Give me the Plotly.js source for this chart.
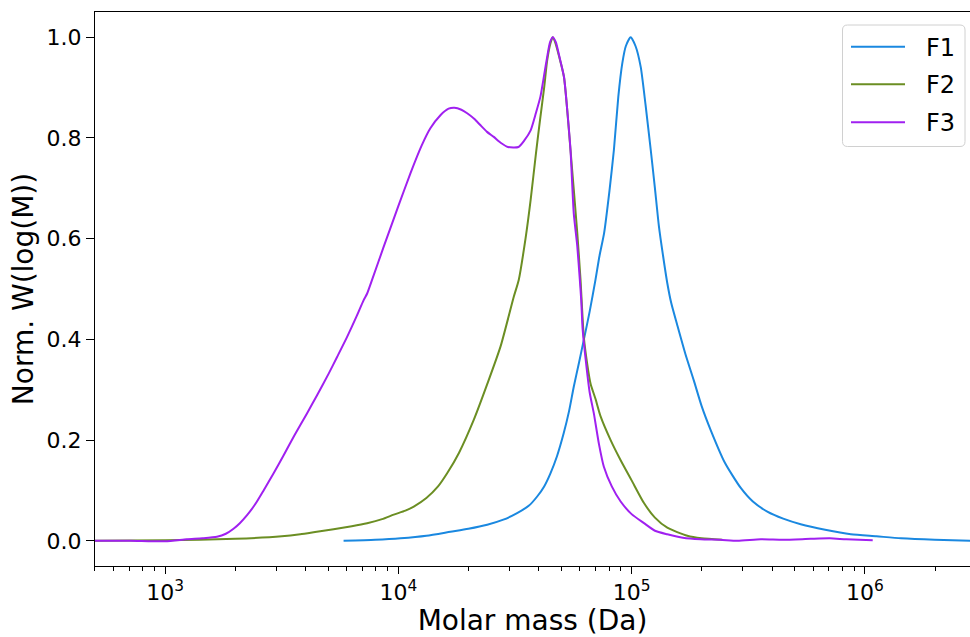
<!DOCTYPE html>
<html>
<head>
<meta charset="utf-8">
<script src="https://cdn.plot.ly/plotly-3.0.1.min.js"></script>
<style>html,body{margin:0;padding:0;background:#fff;}#chart{width:970px;height:637px;}</style>
</head>
<body>
<div id="chart"></div>
<script>
// Series names
const seriesNames = ["F1", "F2", "F3"];

// F1 (blue): molar mass (Da) and normalized W(log M)
const f1M = [5820, 7943, 10210, 13180, 16710, 19950, 24040, 28180, 32280, 36310, 39360, 42170, 44870, 47860,
  51170, 53950, 56490, 59570, 62370, 66070, 69980, 72780, 76210, 80350, 83950, 87700, 91200, 94410, 99080,
  104000, 109400, 114800, 120800, 125900, 130900, 136500, 142200, 147900, 157000, 169800, 184900, 199500,
  218300, 251200, 293800, 331100, 381900, 446700, 530900, 676100, 871000, 1122000, 1429000, 1995000, 2851000];
const f1W = [0.000, 0.002, 0.005, 0.010, 0.018, 0.024, 0.032, 0.042, 0.055, 0.070, 0.088, 0.108, 0.134, 0.168,
  0.214, 0.258, 0.306, 0.355, 0.399, 0.455, 0.518, 0.565, 0.611, 0.695, 0.776, 0.882, 0.948, 0.982, 1.000,
  0.982, 0.941, 0.865, 0.776, 0.700, 0.625, 0.565, 0.512, 0.472, 0.428, 0.372, 0.318, 0.268,
  0.220, 0.155, 0.105, 0.078, 0.058, 0.044, 0.033, 0.022, 0.013, 0.009, 0.005, 0.002, 0.000];

// F2 (olive green)
const f2M = [500, 1000, 1995, 3162, 3793, 4467, 5272, 6310, 7345, 8511, 9550, 10720, 11640, 13180, 14790, 16180,
  18200, 21040, 23990, 27420, 31260, 32810, 35080, 36900, 38900, 40640, 42170, 43450, 44870, 45920, 46990,
  48980, 51290, 54700, 58480, 60390, 62370, 64570, 66680, 69980, 73620, 81280, 89740, 100000, 112980,
  125900, 142200, 173400, 199500, 244900];
const f2W = [0.000, 0.001, 0.004, 0.009, 0.013, 0.018, 0.023, 0.029, 0.035, 0.043, 0.052, 0.060, 0.068, 0.085,
  0.108, 0.134, 0.175, 0.240, 0.310, 0.386, 0.485, 0.518, 0.600, 0.677, 0.770, 0.842, 0.900, 0.954, 0.988,
  1.000, 0.990, 0.960, 0.921, 0.776, 0.611, 0.518, 0.405, 0.350, 0.312, 0.282, 0.247, 0.200, 0.160, 0.120,
  0.075, 0.046, 0.026, 0.010, 0.005, 0.002];

// F3 (purple)
const f3M = [500, 708, 1000, 1239, 1445, 1667, 1820, 1963, 2089, 2244, 2427, 2642, 2917, 3221, 3589, 4055, 4467,
  5023, 5458, 6026, 6607, 7096, 7345, 7709, 8650, 10000, 11270, 12590, 13710, 15140, 16410, 17380, 18620,
  19720, 21130, 22490, 23990, 25640, 27540, 29510, 32730, 34670, 36900, 38900, 40640, 42170, 43450, 44670,
  45920, 47320, 48980, 51290, 53090, 54700, 56490, 58480, 59980, 60810, 61660, 63530, 66070, 68870, 72440,
  76030, 82220, 89740, 100000, 112980, 125900, 142200, 166000, 197700, 239900, 284400, 358100, 446700,
  586100, 707900, 831800, 1081000];
const f3W = [0.000, 0.000, -0.001, 0.003, 0.005, 0.008, 0.014, 0.024, 0.035, 0.051, 0.072, 0.100, 0.134, 0.170,
  0.210, 0.253, 0.288, 0.332, 0.365, 0.405, 0.445, 0.478, 0.491, 0.518, 0.584, 0.665, 0.730, 0.785, 0.819,
  0.845, 0.858, 0.860, 0.856, 0.849, 0.838, 0.825, 0.812, 0.802, 0.790, 0.782, 0.782, 0.795, 0.815, 0.850,
  0.882, 0.925, 0.961, 0.990, 1.000, 0.990, 0.962, 0.921, 0.850, 0.776, 0.650, 0.585, 0.518, 0.478, 0.420,
  0.360, 0.295, 0.253, 0.192, 0.147, 0.108, 0.078, 0.053, 0.035, 0.020, 0.013, 0.006, 0.003, 0.002, 0.000,
  0.003, 0.002, 0.004, 0.005, 0.003, 0.001];

// Axis tick values / labels
const xTickVals = [1e3, 1e4, 1e5, 1e6];
const xTickText = ["10<sup>3</sup>", "10<sup>4</sup>", "10<sup>5</sup>", "10<sup>6</sup>"];
const yTickVals = [0.0, 0.2, 0.4, 0.6, 0.8, 1.0];

const colors = ["#1a88e0", "#6b8e23", "#a020f0"];

const minorVals = [];
for (let d = 2; d <= 6; d++) for (let k = 2; k <= 9; k++) minorVals.push(k * Math.pow(10, d));

const W = 970, H = 637, ML = 95, MR = 0, MT = 12, MB = 71;
const PW = W - ML - MR, PH = H - MT - MB;
const px2x = p => (p - ML) / PW;
const px2y = p => 1 - (p - MT) / PH;

const font = "DejaVu Sans, sans-serif";
const lineStyle = c => ({color: c, width: 2, shape: "spline", smoothing: 0.6});
const traces = [
  {x: f1M, y: f1W, name: seriesNames[0], mode: "lines", line: lineStyle(colors[0])},
  {x: f2M, y: f2W, name: seriesNames[1], mode: "lines", line: lineStyle(colors[1])},
  {x: f3M, y: f3W, name: seriesNames[2], mode: "lines", line: lineStyle(colors[2])}
];

// custom legend box (matplotlib style)
const lx0 = px2x(842.5), lx1 = px2x(965), ly0 = px2y(25), ly1 = px2y(146.5);
const rx = 5 / PW, ry = 5 / PH;
const boxPath = `M ${lx0 + rx} ${ly0} L ${lx1 - rx} ${ly0} Q ${lx1} ${ly0} ${lx1} ${ly0 - ry} L ${lx1} ${ly1 + ry} Q ${lx1} ${ly1} ${lx1 - rx} ${ly1} L ${lx0 + rx} ${ly1} Q ${lx0} ${ly1} ${lx0} ${ly1 + ry} L ${lx0} ${ly0 - ry} Q ${lx0} ${ly0} ${lx0 + rx} ${ly0} Z`;
const rowY = [46.7, 84.3, 122.3];
const shapes = [{type: "path", xref: "paper", yref: "paper", path: boxPath,
  line: {color: "#d0d0d0", width: 1}, fillcolor: "rgba(255,255,255,0.8)", layer: "above"}];
const annotations = [];
seriesNames.forEach((n, i) => {
  shapes.push({type: "line", xref: "paper", yref: "paper", x0: px2x(851), x1: px2x(905),
    y0: px2y(rowY[i]), y1: px2y(rowY[i]), line: {color: colors[i], width: 2}, layer: "above"});
  annotations.push({xref: "paper", yref: "paper", x: px2x(924), y: px2y(rowY[i] + 1), xanchor: "left", yanchor: "middle",
    text: n, showarrow: false, font: {family: font, size: 24, color: "#000"}});
});

const layout = {
  width: W, height: H,
  margin: {l: ML, r: MR, t: MT, b: MB},
  paper_bgcolor: "#fff", plot_bgcolor: "#fff",
  font: {family: font, color: "#000"},
  showlegend: false,
  xaxis: {
    type: "log", range: [2.699, 6.451],
    showgrid: false, zeroline: false,
    showline: true, linecolor: "#000", linewidth: 1, mirror: true,
    ticks: "outside", ticklen: 7, tickwidth: 1, tickcolor: "#000",
    tickvals: xTickVals, ticktext: xTickText,
    tickfont: {family: font, size: 22},
    minor: {ticks: "outside", ticklen: 4, tickwidth: 1, tickcolor: "#000", tickvals: minorVals, showgrid: false},
    title: {text: "Molar mass (Da)", font: {family: font, size: 28}, standoff: 5}
  },
  yaxis: {
    range: [-0.05, 1.05],
    showgrid: false, zeroline: false,
    showline: true, linecolor: "#000", linewidth: 1,
    ticks: "outside", ticklen: 8, tickwidth: 1, tickcolor: "#000",
    tickvals: yTickVals, tickformat: ".1f",
    tickfont: {family: font, size: 22},
    title: {text: "Norm. W(log(M))", font: {family: font, size: 28}, standoff: 4}
  },
  shapes: shapes,
  annotations: annotations
};

Plotly.newPlot("chart", traces, layout, {staticPlot: true, displayModeBar: false});
</script>
</body>
</html>
